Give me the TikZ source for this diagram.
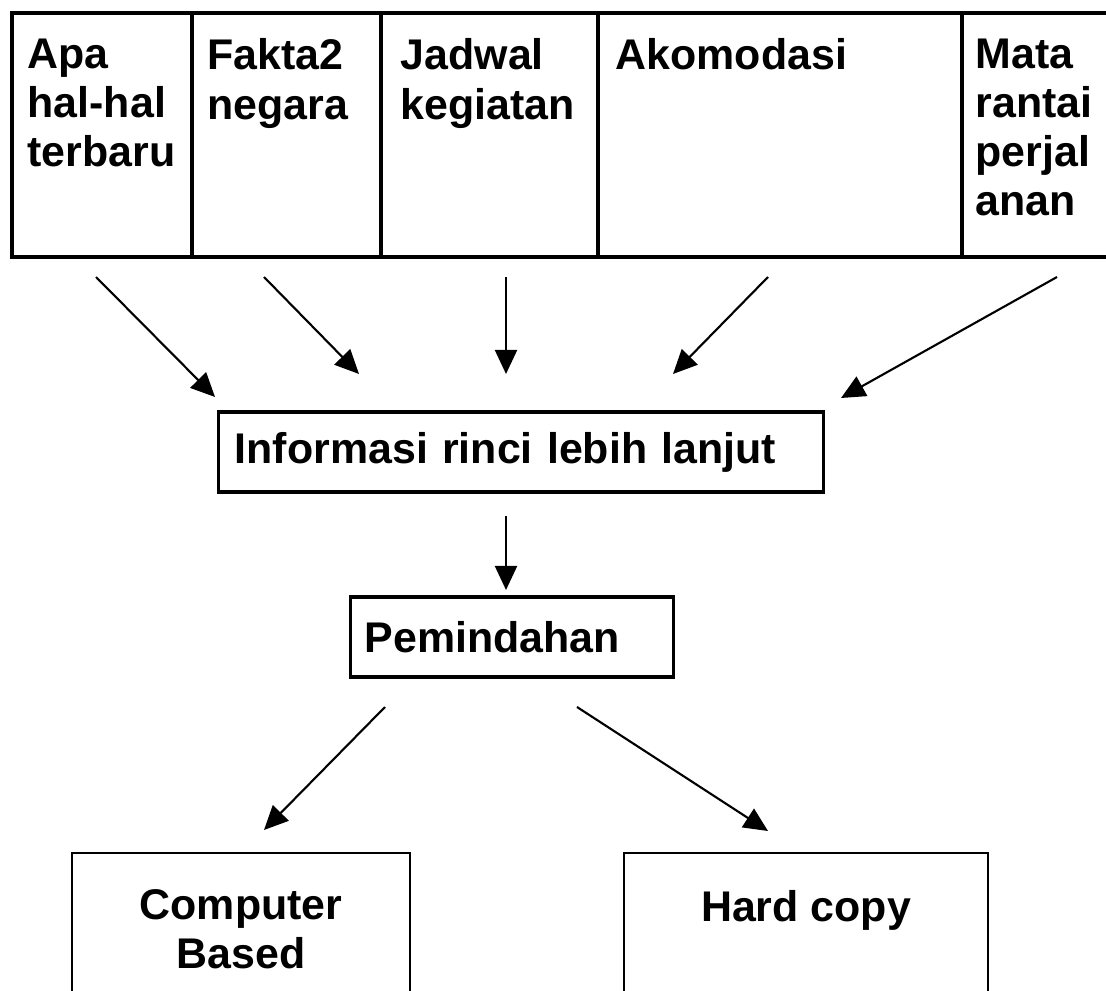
\documentclass[tikz,border=0pt]{standalone}
\usepackage{fontspec}
\setmainfont{Liberation Sans}
\usetikzlibrary{arrows.meta,positioning}

\begin{document}
\begin{tikzpicture}[x=0.01cm, y=-0.01cm,
  txt/.style={font=\fontsize{12.2}{14}\selectfont\bfseries, inner sep=0pt, align=left},
  cell/.style={txt, anchor=north west},
  midbox/.style={draw, line width=0.9pt, txt, minimum height=0.8cm},
  outbox/.style={draw, line width=0.6pt, minimum height=2cm, anchor=north},
  arr/.style={-{Triangle[length=2.4mm,width=2.2mm]}, line width=0.6pt}]

% Frame
\useasboundingbox (0,0) rectangle (1106,991);
\clip (0,0) rectangle (1106,991);

% Table
\draw[line width=0.9pt] (12,13) rectangle (1130,257);
\foreach \x in {192,381,598,962}
  \draw[line width=0.9pt] (\x,13) -- (\x,257);

\node[cell] (apa) at (27,38) {Apa\\hal-hal\\terbaru};
\node[cell] (fakta) at (207,38) {Fakta2\\negara};
\node[cell] (jadwal) at (400,38) {Jadwal\\kegiatan};
\node[cell] (akomodasi) at (615,38) {Akomodasi};
\node[cell] (mata) at (975,38) {Mata\\rantai\\perjal\\anan};

% Boxes
\node[midbox, minimum width=6.04cm, text width=5.72cm, inner xsep=0.16cm] (info) at (521,452) {Informasi rinci lebih lanjut};
\node[midbox, minimum width=3.22cm, text width=2.94cm, inner xsep=0.14cm] (pindah) at (512,637) {Pemindahan};

\node[outbox, minimum width=3.38cm] (computer) at (241,852) {};
\node[txt, align=center, anchor=north] (computertxt) at (241,889) {Computer\\Based};
\node[outbox, minimum width=3.63cm] (hardcopy) at (806,852) {};
\node[txt, anchor=north] (hardcopytxt) at (806,890) {Hard copy};

% Arrow ends
\coordinate (apaout) at (96,277);
\coordinate (faktaout) at (264,277);
\coordinate (jadwalout) at (506,277);
\coordinate (akomodasiout) at (768,277);
\coordinate (mataout) at (1057,277);
\coordinate (infoin1) at (215,397);
\coordinate (infoin2) at (359,374);
\coordinate (infoin3) at (506,374);
\coordinate (infoin4) at (673,374);
\coordinate (infoin5) at (841,398);
\coordinate (infoout) at (506,516);
\coordinate (pindahin) at (506,590);
\coordinate (pindahout1) at (385,707);
\coordinate (pindahout2) at (577,707);
\coordinate (computerin) at (264,830);
\coordinate (hardcopyin) at (768,831);

% Arrows
\draw[arr] (apaout) -- (infoin1);
\draw[arr] (faktaout) -- (infoin2);
\draw[arr] (jadwalout) -- (infoin3);
\draw[arr] (akomodasiout) -- (infoin4);
\draw[arr] (mataout) -- (infoin5);
\draw[arr] (infoout) -- (pindahin);
\draw[arr] (pindahout1) -- (computerin);
\draw[arr] (pindahout2) -- (hardcopyin);
\end{tikzpicture}
\end{document}
